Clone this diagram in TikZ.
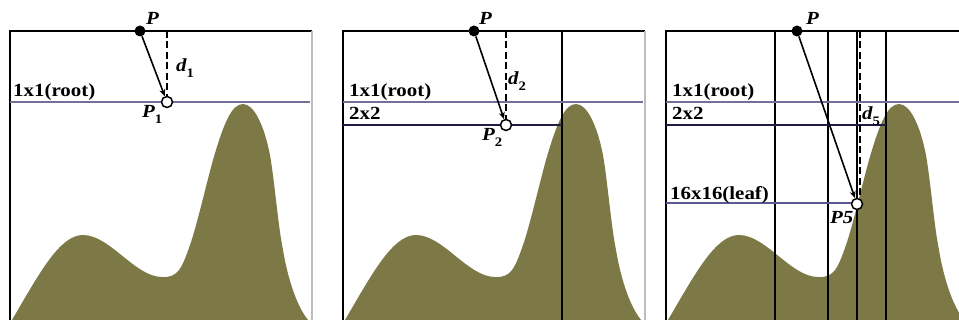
\documentclass[tikz,border=0pt]{standalone}
\usepackage{fontspec}
\setmainfont{Liberation Serif}[FakeStretch=1.13]
\usetikzlibrary{arrows.meta}
\definecolor{olive}{HTML}{7D7947}
\definecolor{rootblue}{HTML}{707098}
\definecolor{navyline}{HTML}{1E1E46}
\definecolor{leafblue}{HTML}{5A5A8E}
\definecolor{edgegray}{HTML}{BDBDBD}
\newcommand\mysub[1]{\raisebox{-0.28em}{\fontsize{13}{13}\selectfont\bfseries\upshape #1}}
\newcommand\terrainpath{(0,325) -- (2,320) .. controls (30,272) and (50,235) .. (73,235)
  .. controls (100,235) and (125,277) .. (152,277)
  .. controls (168,278) and (172,268) .. (180,245)
  .. controls (187,225) and (196,185) .. (203,160)
  .. controls (214,122) and (222,104) .. (233,104)
  .. controls (244,104) and (254,125) .. (260,155)
  .. controls (265,185) and (268,225) .. (273,250)
  .. controls (278,280) and (288,310) .. (300,322)
  -- (302,330) -- (0,330) -- cycle}
\tikzset{
  border/.style={black,line width=1.5pt},
  grayedge/.style={edgegray,line width=1.5pt},
  cellline/.style={black,line width=1.4pt},
  rootline/.style={rootblue,line width=1.1pt},
  twoline/.style={navyline,line width=1.2pt},
  leafline/.style={leafblue,line width=1.1pt},
  terrain/.style={fill=olive,draw=none},
  pdot/.style={circle,fill=black,minimum size=11pt,inner sep=0pt},
  qdot/.style={circle,fill=white,draw=black,line width=1.5pt,minimum size=11pt,inner sep=0pt},
  arr/.style={black,line width=1.6pt,-{Stealth[length=7pt,width=6pt]}},
  dline/.style={black,line width=1.5pt,dash pattern=on 7pt off 3.5pt},
  lab/.style={anchor=base west,inner sep=0pt,font=\fontsize{18.5}{20}\selectfont\bfseries},
  plab/.style={anchor=base west,inner sep=0pt,font=\fontsize{18.5}{20}\selectfont\bfseries\itshape},
}
\begin{document}
\begin{tikzpicture}[x=1pt,y=-1pt]
\useasboundingbox (0,0) rectangle (959,320);
\clip (0,0) rectangle (959,320);
% terrain fills
\fill[terrain, shift={(10,0)}] \terrainpath;
\fill[terrain, shift={(343,0)}] \terrainpath;
\fill[terrain, shift={(666,0)}] \terrainpath;

% ---------- Panel 1 ----------
\draw[border] (10,322) -- (10,31) -- (312,31);
\draw[grayedge] (312,31) -- (312,322);
\draw[rootline] (10,102) -- (310,102);
\node[lab] (r1) at (13,97) {1x1(root)};
\node[pdot] (Pa) at (140,31) {};
\node[qdot] (Qa) at (167,102) {};
\coordinate (Da) at (167,31);
\draw[dline] (Da) -- (Qa.north);
\draw[arr] (Pa) -- (Qa);
\node[plab] (Pla) at (146,25) {P};
\node[plab] (dla) at (176,72) {d\mysub{1}};
\node[plab] (Qla) at (142,118) {P\mysub{1}};

% ---------- Panel 2 ----------
\draw[border] (343,322) -- (343,31) -- (645,31);
\draw[grayedge] (645,31) -- (645,322);
\draw[cellline] (562,31) -- (562,322);
\draw[rootline] (343,102) -- (643,102);
\draw[twoline] (343,125) -- (562,125);
\node[lab] (r2) at (349,97) {1x1(root)};
\node[lab] (t2) at (349,120) {2x2};
\node[pdot] (Pb) at (474,31) {};
\node[qdot] (Qb) at (506,125) {};
\coordinate (Db) at (506,31);
\draw[dline] (Db) -- (Qb.north);
\draw[arr] (Pb) -- (Qb);
\node[plab] (Plb) at (479,25) {P};
\node[plab] (dlb) at (508,85) {d\mysub{2}};
\node[plab] (Qlb) at (482,141) {P\mysub{2}};

% ---------- Panel 3 ----------
\draw[border] (666,322) -- (666,31) -- (961,31);
\foreach \xx in {775,828,857,886} \draw[cellline] (\xx,31) -- (\xx,322);
\draw[rootline] (666,102) -- (961,102);
\draw[twoline] (666,125) -- (886,125);
\draw[leafline] (666,203) -- (857,203);
\node[lab] (r3) at (672,97) {1x1(root)};
\node[lab] (t3) at (672,120) {2x2};
\node[lab] (l3) at (670,200) {16x16(leaf)};
\node[pdot] (Pc) at (797,31) {};
\node[qdot] (Qc) at (857,204) {};
\coordinate (Dc) at (860,31);
\draw[dline] (Dc) -- (Dc |- Qc.north);
\draw[arr] (Pc) -- (Qc);
\node[plab] (Plc) at (806,25) {P};
\node[plab] (dlc) at (862,120) {d\mysub{5}};
\node[plab] (Qlc) at (830,224) {P5};
\end{tikzpicture}
\end{document}
